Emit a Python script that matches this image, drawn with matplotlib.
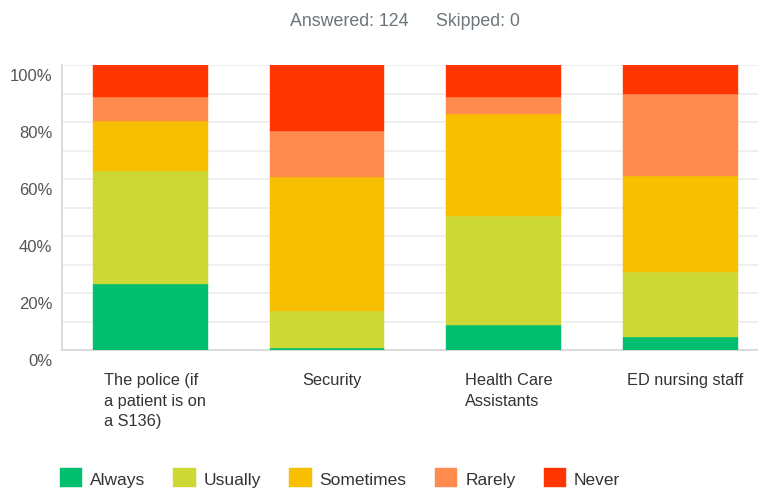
import matplotlib
matplotlib.use("Agg")
import matplotlib.pyplot as plt
import matplotlib.transforms as mtransforms
import numpy as np

categories = ["The police (if\na patient is on\na S136)", "Security", "Health Care\nAssistants", "ED nursing staff"]
series_names = ["Always", "Usually", "Sometimes", "Rarely", "Never"]
always = [23.0, 0.8, 8.9, 4.4]
usually = [39.8, 12.9, 38.0, 23.1]
sometimes = [17.7, 46.9, 35.8, 33.6]
rarely = [8.4, 16.4, 6.2, 28.7]
never = [11.1, 23.0, 11.1, 10.2]
colors = ["#00bf6f", "#cdd834", "#f8be00", "#ff8b4f", "#ff3600"]
yticks = [0, 20, 40, 60, 80, 100]
ytick_labels = ["0%", "20%", "40%", "60%", "80%", "100%"]
header_left = "Answered: 124"
header_right = "Skipped: 0"

plt.rcParams['font.family'] = ["Liberation Sans", "DejaVu Sans"]

W, H = 758, 489
fig = plt.figure(figsize=(W / 100, H / 100), dpi=100)
ax = fig.add_axes([62 / W, (H - 351) / H, 1 - 62 / W, (351 - 66) / H])

x = np.arange(len(categories))
data = [always, usually, sometimes, rarely, never]
bottom = np.zeros(len(categories))
handles = []
for name, vals, c in zip(series_names, data, colors):
    b = ax.bar(x, vals, 0.65, bottom=bottom, color=c, label=name, zorder=3,
               edgecolor=c, linewidth=0.3)
    handles.append(b)
    bottom += np.array(vals)

ax.set_xlim(-0.5, 3.44)
ax.set_ylim(0, 100)
ax.set_yticks(yticks)
ax.set_yticks(np.arange(10, 100, 20), minor=True)
ax.yaxis.grid(True, which="major", color="#ececec", linewidth=1.2, zorder=0)
ax.yaxis.grid(True, which="minor", color="#ececec", linewidth=1.2, zorder=0)
ax.set_yticklabels(ytick_labels, fontsize=12, color="#555555")
ax.tick_params(axis="y", length=0, pad=7)
ax.tick_params(axis="y", which="minor", length=0)
off = mtransforms.ScaledTranslation(0, -9 / 100, fig.dpi_scale_trans)
for lab in ax.get_yticklabels():
    lab.set_transform(lab.get_transform() + off)

ax.set_xticks(x)
ax.set_xticklabels(categories, fontsize=11.8, color="#333333",
                   linespacing=1.45, multialignment="left")
ax.tick_params(axis="x", length=0, pad=16)
offx = mtransforms.ScaledTranslation(5 / 100, 0, fig.dpi_scale_trans)
for lab in ax.get_xticklabels():
    lab.set_transform(lab.get_transform() + offx)

for s in ["top", "right"]:
    ax.spines[s].set_visible(False)
for s in ["left", "bottom"]:
    ax.spines[s].set_color("#d6d6d6")
    ax.spines[s].set_linewidth(1.2)

fig.text(408 / W, 1 - 21 / H, header_left, ha="right", va="center", fontsize=12.8, color="#6b757b")
fig.text(436 / W, 1 - 21 / H, header_right, ha="left", va="center", fontsize=12.8, color="#6b757b")

leg = fig.legend(handles=handles, labels=series_names, loc="lower left",
                 bbox_to_anchor=(44 / W, -15 / H), ncol=5, frameon=False,
                 prop={"size": 12.5}, handlelength=1.3, handleheight=1.3,
                 handletextpad=0.45, columnspacing=1.62)
for t in leg.get_texts():
    t.set_color("#333333")

fig.savefig("out.png", dpi=100)
